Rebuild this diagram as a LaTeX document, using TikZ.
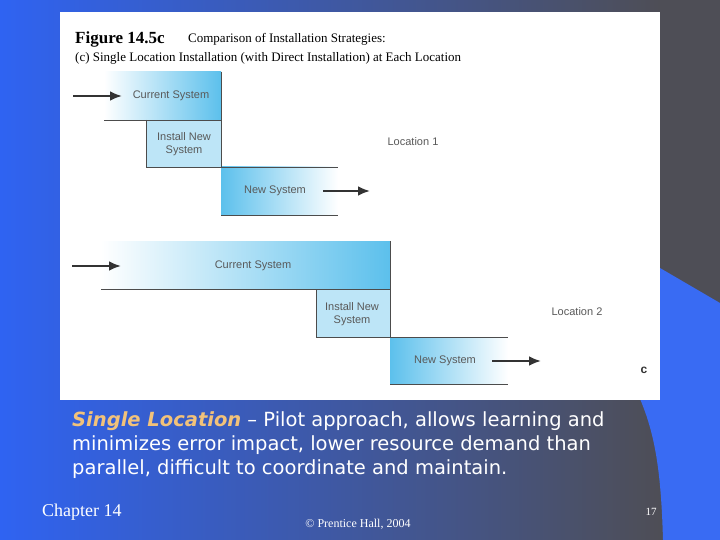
\documentclass[tikz,border=0pt]{standalone}
\usepackage{fontspec}
\setmainfont{Liberation Serif}
\newfontfamily\dv{DejaVu Sans}
\newfontfamily\ls{Liberation Sans}
\begin{document}
\begin{tikzpicture}[x=1pt,y=-1pt,
  lbl/.style={font=\ls\fontsize{11}{12.5}\selectfont, text=black!65, inner sep=0},
  arr/.style={draw=black!80, line width=2.6pt, -{Latex[length=12pt,width=10pt]}},
  edge/.style={draw=black!70, line width=0.8pt},
  ]
\usetikzlibrary{arrows.meta}
\definecolor{bA}{HTML}{2F63F2}
\definecolor{bB}{HTML}{4E4E56}
\definecolor{boxb}{HTML}{5CC0EC}
\definecolor{boxl}{HTML}{BDE5F7}
\definecolor{hl}{HTML}{F2C27A}
\useasboundingbox (0,0) rectangle (720,540);
\shade[left color=bA, right color=bB] (0,0) rectangle (660,540);
\fill[bB] (660,0) rectangle (720,540);
\fill[bA!95!white] (660,268) -- (720,303) -- (720,540) -- (663,540) .. controls (661,470) and (655,430) .. (636,390) -- (636,268) -- cycle;
\fill[white] (60,12) rectangle (660,400);
% title
\node[anchor=base west, inner sep=0, font=\bfseries\fontsize{17}{18}\selectfont] (fig) at (75,44) {Figure 14.5c};
\node[anchor=base west, inner sep=0, font=\fontsize{13}{14}\selectfont] (t1) at (188,43) {Comparison of Installation Strategies:};
\node[anchor=base west, inner sep=0, font=\fontsize{13}{14}\selectfont] (t2) at (75,62) {(c) Single Location Installation (with Direct Installation) at Each Location};
% location 1
\shade[left color=white, right color=boxb] (104,72) rectangle (221,120);
\fill[boxl] (146,120) rectangle (221,167);
\shade[left color=boxb, right color=white] (221,167) rectangle (338,215);
\draw[edge] (221,72) -- (221,167);
\draw[edge] (104,120) -- (221,120);
\draw[edge] (146,120) -- (146,167) -- (338,167);
\draw[edge] (221,215) -- (338,215);
\node[lbl] (cs1) at (171,96) {Current System};
\node[lbl, align=center] (in1) at (184,144) {Install New\\System};
\node[lbl] (ns1) at (275,191) {New System};
\coordinate (a1) at (73,96); \coordinate (a1e) at (122,96);
\draw[arr] (a1) -- (a1e);
\coordinate (b1) at (323,191); \coordinate (b1e) at (370,191);
\draw[arr] (b1) -- (b1e);
\node[lbl] (loc1) at (413,142) {Location 1};
% location 2
\shade[left color=white, right color=boxb] (101,241) rectangle (390,289);
\fill[boxl] (316,289) rectangle (390,337);
\shade[left color=boxb, right color=white] (390,337) rectangle (508,384);
\draw[edge] (390,241) -- (390,337);
\draw[edge] (101,289) -- (390,289);
\draw[edge] (316,289) -- (316,337) -- (508,337);
\draw[edge] (390,384) -- (508,384);
\node[lbl] (cs2) at (253,266) {Current System};
\node[lbl, align=center] (in2) at (352,314) {Install New\\System};
\node[lbl] (ns2) at (445,361) {New System};
\coordinate (a2) at (72,266); \coordinate (a2e) at (121,266);
\draw[arr] (a2) -- (a2e);
\coordinate (b2) at (492,361); \coordinate (b2e) at (541,361);
\draw[arr] (b2) -- (b2e);
\node[lbl] (loc2) at (577,312) {Location 2};
\node[inner sep=0, font=\ls\bfseries\fontsize{12}{12}\selectfont, text=black!80] (c) at (644,370) {c};
% bottom text
\node[anchor=north west, inner sep=0, text=white, font=\dv\fontsize{19.5}{24}\selectfont, align=left] (body) at (72,411)
 {\textcolor{hl}{\bfseries\itshape Single Location} – Pilot approach, allows learning and\\minimizes error impact, lower resource demand than\\parallel, difficult to coordinate and maintain.};
\node[anchor=base west, inner sep=0, text=white, font=\fontsize{18}{20}\selectfont] (ch) at (42,516) {Chapter 14};
\node[anchor=base, inner sep=0, text=white, font=\fontsize{12}{14}\selectfont] (cp) at (358,527) {© Prentice Hall, 2004};
\node[anchor=base, inner sep=0, text=white, font=\fontsize{11}{12}\selectfont] (pg) at (651,515) {17};
\end{tikzpicture}
\end{document}
